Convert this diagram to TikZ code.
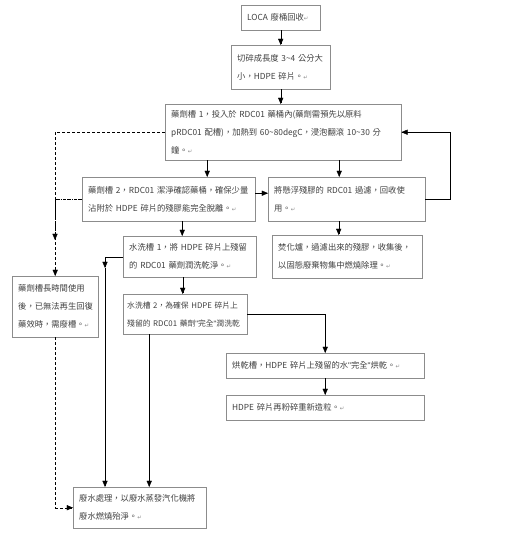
\documentclass[tikz,border=0pt]{standalone}
\usepackage{fontspec}
\setmainfont{Noto Sans CJK TC}
\newfontfamily\symfont{DejaVu Sans}
\newfontfamily\latinfont{Liberation Sans}
\usetikzlibrary{arrows,positioning}
\newcommand\retmark{{\symfont\fontsize{5.5}{5.5}\selectfont\textcolor{black!45}{↵}}}
\newcommand\tild{\textasciitilde}
\newcommand\dq{{\latinfont\symbol{34}}}
\tikzset{
  stage/.style = {draw=black!45, anchor=north west, align=left, inner xsep=6pt,
                  inner ysep=2pt, font=\fontsize{8.3}{18}\selectfont, text=black!75},
  link/.style  = {-triangle 45, black, thin}
}

\begin{document}
\begin{tikzpicture}[x=1pt,y=-1pt]
\fill[white] (0,0) rectangle (512,534);
\useasboundingbox (0,0) rectangle (512,534);
% process steps
\node[stage, minimum width=79pt, minimum height=25pt, text width=67pt] (loca) at (241,5)
  {LOCA 廢桶回收\retmark};
\node[stage, minimum width=99pt, minimum height=44pt, text width=87pt] (cut) at (231,45)
  {切碎成長度 3\tild4 公分大\\小，HDPE 碎片。\retmark};
\node[stage, minimum width=236pt, minimum height=56pt, text width=224pt] (tank1) at (165,104)
  {藥劑槽 1，投入於 RDC01 藥桶內(藥劑需預先以原料\\pRDC01 配槽)，加熱到 60\tild80degC，浸泡翻滾 10\tild30 分\\鐘。\retmark};
\node[stage, minimum width=173pt, minimum height=44pt, text width=161pt] (tank2) at (82,177)
  {藥劑槽 2，RDC01 潔淨確認藥桶，確保少量\\沾附於 HDPE 碎片的殘膠能完全脫離。\retmark};
\node[stage, minimum width=157pt, minimum height=44pt, text width=145pt] (filter) at (268,177)
  {將懸浮殘膠的 RDC01 過濾，回收使\\用。\retmark};
\node[stage, minimum width=150pt, minimum height=43pt, text width=138pt] (burn) at (272,235)
  {焚化爐，過濾出來的殘膠，收集後，\\以固態廢棄物集中燃燒除理。\retmark};
\node[stage, minimum width=133pt, minimum height=41pt, text width=121pt] (rinse1) at (123,236)
  {水洗槽 1，將 HDPE 碎片上殘留\\的 RDC01 藥劑潤洗乾淨。\retmark};
\node[stage, minimum width=124pt, minimum height=40pt, text width=116pt, inner xsep=4pt,
      font=\fontsize{7.8}{18}\selectfont] (rinse2) at (123,294)
  {\mbox{水洗槽 2，為確保 HDPE 碎片上}\\\mbox{殘留的 RDC01 藥劑\dq 完全\dq 潤洗乾}};
\node[stage, minimum width=198pt, minimum height=25pt, text width=186pt] (dry) at (226,353)
  {烘乾槽，HDPE 碎片上殘留的水\dq 完全\dq 烘乾。\retmark};
\node[stage, minimum width=198pt, minimum height=25pt, text width=186pt] (pellet) at (226,395)
  {HDPE 碎片再粉碎重新造粒。\retmark};
\node[stage, minimum width=133pt, minimum height=41pt, text width=121pt] (waste) at (73,487)
  {廢水處理，以廢水蒸發汽化機將\\廢水燃燒殆淨。\retmark};
\node[stage, minimum width=86pt, minimum height=61pt, text width=74pt] (scrap) at (12,276)
  {藥劑槽長時間使用\\後，已無法再生回復\\藥效時，需廢槽。\retmark};
\coordinate (rinsedrop) at (105,268);
\coordinate (scrapdrop) at (55,240);
% main flow
\draw[link] (loca) -- (cut);
\draw[link] (cut.south) -- (cut.south |- tank1.north);
\draw[link] ([xshift=38.5pt]tank2.north |- tank1.south) -- ([xshift=38.5pt]tank2.north);
\draw[link] ([xshift=-7.5pt]filter.north |- tank1.south) -- ([xshift=-7.5pt]filter.north);
\draw[link] ([yshift=6pt]tank2.east) -- ([yshift=6pt]tank2.east -| filter.west);
\draw[link] (filter.east) -- ++(25,0) |- (tank1.east);
\draw[link] ([xshift=-8pt]filter.south) -- ([xshift=-8pt]filter.south |- burn.north);
\draw[link] ([xshift=13.5pt]tank2.south) -- ([xshift=13.5pt]tank2.south |- rinse1.north);
\draw[link] ([xshift=-7pt]rinse1.south) -- ([xshift=-7pt]rinse1.south |- rinse2.north);
\draw[link] (rinse2.east) -| (dry.north);
\draw[link] (dry) -- (pellet);
% waste water
\draw[link] (rinse1.west) -| (rinsedrop);
\draw[link] (rinsedrop) -- (rinsedrop |- waste.north);
\draw[link] ([xshift=-36pt]rinse2.south) -- ([xshift=-36pt]rinse2.south |- waste.north);
% scrapped tank
\draw[link, densely dashed] (tank1.west) -| (scrap.north);
\draw[link, densely dashdotted] (tank2.west) -| (scrapdrop);
\draw[link, densely dashed] (scrap.south) |- (waste.west);
\end{tikzpicture}
\end{document}
